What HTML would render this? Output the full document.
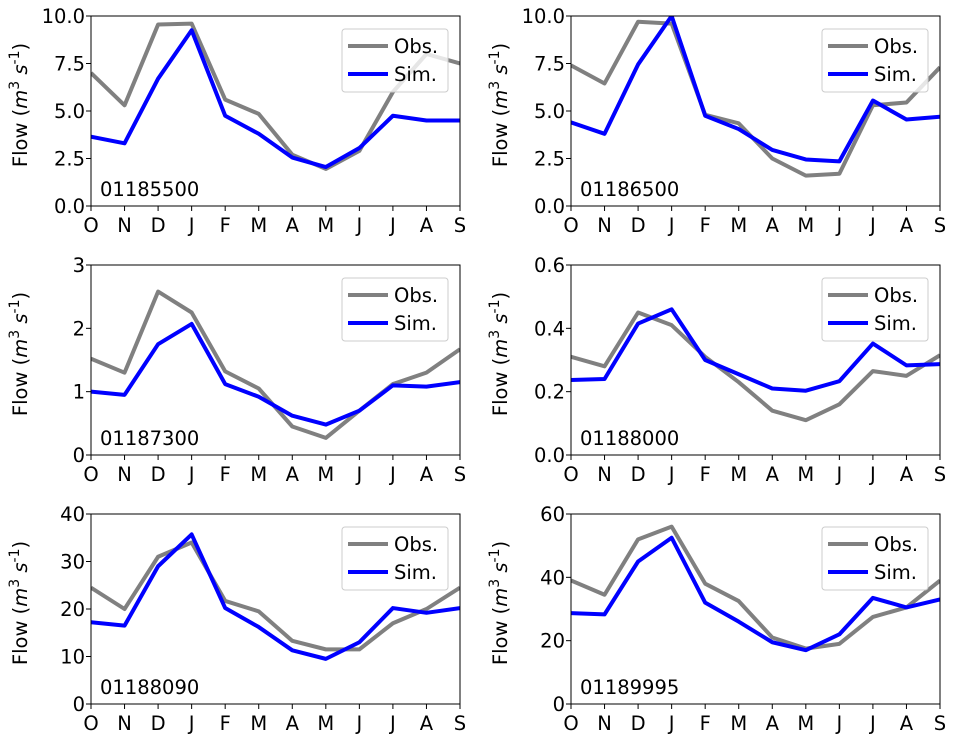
<!DOCTYPE html>
<html><head><meta charset="utf-8"><style>
body{margin:0;background:#fff;}
svg{display:block;font-family:"DejaVu Sans","Liberation Sans",sans-serif;}
</style></head><body>
<svg id="fig" width="956" height="738"></svg>
<script>
const months = ["O","N","D","J","F","M","A","M","J","J","A","S"];
const stations = ["01185500","01186500","01187300","01188000","01188090","01189995"];
const obs1 = [7.0,5.3,9.55,9.6,5.6,4.85,2.7,1.95,2.9,6.0,8.0,7.5];
const sim1 = [3.65,3.3,6.7,9.25,4.75,3.8,2.55,2.05,3.05,4.75,4.5,4.5];
const obs2 = [7.4,6.45,9.7,9.6,4.8,4.35,2.5,1.6,1.7,5.3,5.45,7.3];
const sim2 = [4.4,3.8,7.45,10.0,4.75,4.05,2.95,2.45,2.35,5.55,4.55,4.7];
const obs3 = [1.52,1.3,2.58,2.25,1.32,1.05,0.45,0.27,0.7,1.12,1.3,1.67];
const sim3 = [1.0,0.95,1.75,2.07,1.12,0.92,0.62,0.48,0.7,1.1,1.08,1.15];
const obs4 = [0.31,0.28,0.45,0.41,0.31,0.23,0.14,0.11,0.16,0.265,0.25,0.315];
const sim4 = [0.237,0.24,0.415,0.46,0.30,0.255,0.21,0.203,0.233,0.352,0.283,0.287];
const obs5 = [24.5,20,31,34,21.7,19.5,13.3,11.5,11.5,17,20,24.5];
const sim5 = [17.2,16.5,29,35.7,20.2,16.2,11.3,9.5,13,20.2,19.2,20.2];
const obs6 = [39,34.5,52,56,38,32.5,21,17.5,19,27.5,30.5,39];
const sim6 = [28.7,28.3,45,52.5,32,26,19.5,17,22,33.5,30.5,33];
const ticks1 = ["0.0","2.5","5.0","7.5","10.0"];
const ticks3 = ["0","1","2","3"];
const ticks4 = ["0.0","0.2","0.4","0.6"];
const ticks5 = ["0","10","20","30","40"];
const ticks6 = ["0","20","40","60"];

const NS="http://www.w3.org/2000/svg";
const svg=document.getElementById('fig');
function mk(tag,attrs,parent){const e=document.createElementNS(NS,tag);for(const k in attrs)e.setAttribute(k,attrs[k]);(parent||svg).appendChild(e);return e;}

const FS=19.5;
const panels=[
 {obs:obs1,sim:sim1,ticks:ticks1,x0:91,y0:16},
 {obs:obs2,sim:sim2,ticks:ticks1,x0:571,y0:16},
 {obs:obs3,sim:sim3,ticks:ticks3,x0:91,y0:265},
 {obs:obs4,sim:sim4,ticks:ticks4,x0:571,y0:265},
 {obs:obs5,sim:sim5,ticks:ticks5,x0:91,y0:514},
 {obs:obs6,sim:sim6,ticks:ticks6,x0:571,y0:514}
];
const W=369,H=190;
panels.forEach((p,i)=>{
  const g=mk('g',{});
  
  
  const ymax=parseFloat(p.ticks[p.ticks.length-1]);
  const xs=k=>p.x0+k*W/(months.length-1);
  const ys=v=>p.y0+H-v/ymax*H;
  p.ticks.forEach(t=>{
    const y=ys(parseFloat(t));
    mk('line',{x1:p.x0-5,x2:p.x0,y1:y,y2:y,stroke:'#000','stroke-width':1},g);
    const tx=mk('text',{x:p.x0-6,y:y+7,'font-size':FS,'text-anchor':'end',fill:'#000'},g);
    tx.textContent=t;
    
    
  });
  months.forEach((m,k)=>{
    const x=xs(k);
    mk('line',{x1:x,x2:x,y1:p.y0+H,y2:p.y0+H+5,stroke:'#000','stroke-width':1},g);
    const tx=mk('text',{x:x,y:p.y0+H+26,'font-size':FS,'text-anchor':'middle',fill:'#000'},g);
    tx.textContent=m;
    
    
  });
  const yl=mk('text',{transform:`translate(${p.x0-64},${p.y0+H/2-6}) rotate(-90)`,'font-size':FS,'text-anchor':'middle',fill:'#000'},g);
  yl.innerHTML='Flow (<tspan font-style="italic">m</tspan><tspan dy="-8" font-size="14">3</tspan><tspan dy="8"> </tspan><tspan font-style="italic">s</tspan><tspan dy="-8" font-size="14">-1</tspan><tspan dy="8">)</tspan>';
  
  
  const clip=mk('clipPath',{id:'c'+i},g);
  mk('rect',{x:p.x0,y:p.y0,width:W,height:H},clip);
  const line=(arr,col,name)=>{
    const pl=mk('polyline',{points:arr.map((v,k)=>xs(k)+','+ys(v)).join(' '),fill:'none',stroke:col,'stroke-width':4,'stroke-linejoin':'round','clip-path':`url(#c${i})`},g);
    
    
  };
  line(p.obs,'#808080','obs-line');
  line(p.sim,'#0000ff','sim-line');
  const lg=mk('g',{},g);
  
  
  const lx=p.x0+251,ly=p.y0+13;
  mk('rect',{x:lx,y:ly,width:106,height:63,rx:3,fill:'#fff','fill-opacity':0.8,stroke:'#ccc','stroke-width':1},lg);
  [['Obs.','#808080'],['Sim.','#0000ff']].forEach((e,j)=>{
    const cy=ly+17+j*28;
    mk('line',{x1:lx+6,x2:lx+46,y1:cy,y2:cy,stroke:e[1],'stroke-width':4},lg);
    const t=mk('text',{x:lx+52,y:cy+7,'font-size':FS,fill:'#000'},lg);
    t.textContent=e[0];
    
    
  });
  const st=mk('text',{x:p.x0+9,y:p.y0+H-10,'font-size':FS,fill:'#000'},g);
  st.textContent=stations[i];
  
  
  mk('rect',{x:p.x0,y:p.y0,width:W,height:H,fill:'none',stroke:'#000','stroke-width':1},g);
});
</script>
</body></html>
